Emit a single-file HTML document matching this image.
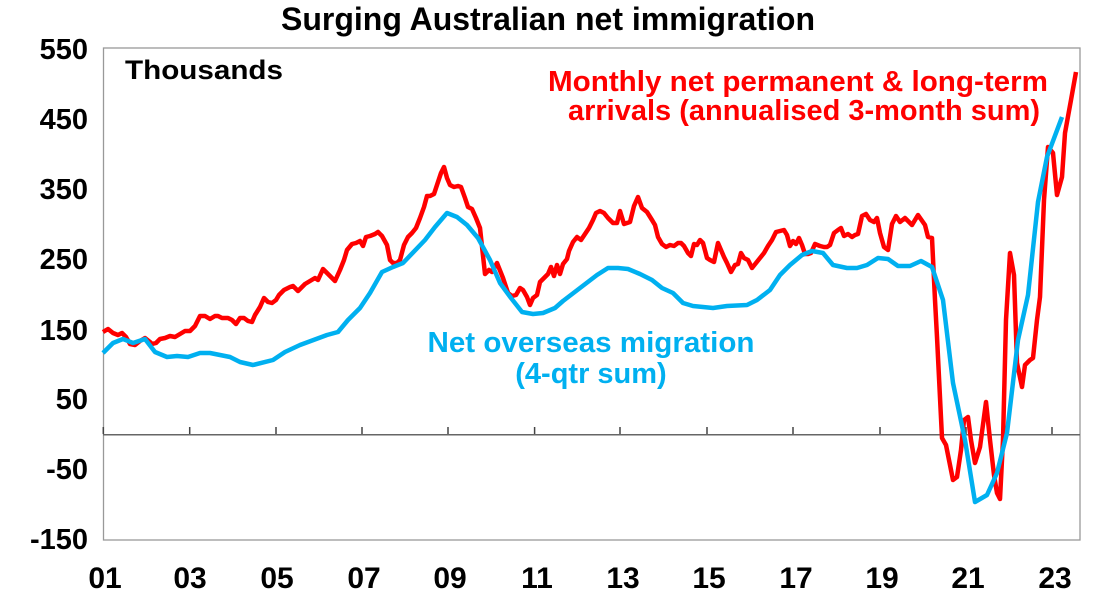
<!DOCTYPE html>
<html><head><meta charset="utf-8"><style>
body{margin:0;background:#fff;}
svg{display:block;font-family:"Liberation Sans",Arial,sans-serif;font-weight:bold;}
</style></head><body>
<svg width="1097" height="608" viewBox="0 0 1097 608">
<text x="548" y="30" font-size="32" text-anchor="middle">Surging Australian net immigration</text>
<rect x="103.5" y="48" width="976.5" height="492" fill="none" stroke="#999" stroke-width="1.3"/>
<line x1="103" y1="434.7" x2="1080" y2="434.7" stroke="#666" stroke-width="1.5"/>
<g stroke="#444" stroke-width="1.5">
<line x1="103.3" y1="427" x2="103.3" y2="434"/><line x1="189.7" y1="427" x2="189.7" y2="434"/><line x1="276" y1="427" x2="276" y2="434"/><line x1="362" y1="427" x2="362" y2="434"/><line x1="448" y1="427" x2="448" y2="434"/><line x1="534.6" y1="427" x2="534.6" y2="434"/><line x1="620" y1="427" x2="620" y2="434"/><line x1="707" y1="427" x2="707" y2="434"/><line x1="793" y1="427" x2="793" y2="434"/><line x1="880" y1="427" x2="880" y2="434"/><line x1="966" y1="427" x2="966" y2="434"/><line x1="1052" y1="427" x2="1052" y2="434"/>
</g>
<g font-size="29" text-anchor="end">
<text x="88" y="59">550</text><text x="88" y="129">450</text><text x="88" y="199">350</text><text x="88" y="269">250</text><text x="88" y="340">150</text><text x="88" y="409">50</text><text x="88" y="479">-50</text><text x="88" y="549">-150</text>
</g>
<g font-size="30" text-anchor="middle">
<text x="105" y="588">01</text><text x="190" y="588">03</text><text x="277" y="588">05</text><text x="364" y="588">07</text><text x="450" y="588">09</text><text x="537" y="588">11</text><text x="623" y="588">13</text><text x="709" y="588">15</text><text x="796" y="588">17</text><text x="882" y="588">19</text><text x="968" y="588">21</text><text x="1055" y="588">23</text>
</g>
<text x="125" y="79" font-size="27" textLength="158" lengthAdjust="spacingAndGlyphs">Thousands</text>
<g font-size="29" fill="#ff0000" text-anchor="end">
<text x="1048" y="91" textLength="500" lengthAdjust="spacingAndGlyphs">Monthly net permanent &amp; long-term</text>
<text x="1040" y="120" textLength="472" lengthAdjust="spacingAndGlyphs">arrivals (annualised 3-month sum)</text>
</g>
<g font-size="29" fill="#00b0f0" text-anchor="middle">
<text x="591" y="352" textLength="327" lengthAdjust="spacingAndGlyphs">Net overseas migration</text>
<text x="591" y="383">(4-qtr sum)</text>
</g>
<polyline fill="none" stroke="#ff0000" stroke-width="4.5" stroke-linejoin="round" points="103,332 108,329 113,333 118,335 122,333 126,337 130,344 135,345 140,341 145,338 150,342 152,344 156,343 160,339 165,338 170,336 175,337 180,334 185,331 190,331 195,326 200,316 205,316 210,319 215,316 218,316 222,318 228,318 232,320 236,324 240,318 244,318 248,321 252,322 255,315 260,307 264,298 268,302 272,303 276,300 279,295 284,290 290,287 293,286 298,291 305,284 310,281 315,278 318,280 323,269 327,273 332,278 335,281 340,270 344,260 347,250 352,244 356,243 360,241 363,246 366,237 370,236 375,234 378,232 382,236 387,245 390,260 393,263 397,263 400,260 404,245 408,237 412,233 416,228 420,218 424,207 427,196 430,196 434,194 438,182 441,173 444,167 447,178 450,185 454,187 458,186 461,187 465,198 468,207 472,209 476,218 480,228 485,274 489,270 492,272 497,263 503,278 508,293 512,296 516,295 520,288 523,290 527,297 530,305 533,298 537,295 540,282 544,278 548,274 551,267 554,276 557,265 560,274 563,264 567,259 569,251 573,242 577,237 581,240 585,234 589,228 593,220 596,213 600,211 604,213 608,218 613,223 617,223 620,211 624,224 630,222 634,206 638,197 642,208 647,212 652,220 655,225 658,237 662,244 666,247 670,245 674,246 678,243 681,243 684,246 688,253 691,256 694,244 697,245 700,240 703,243 707,258 710,260 714,262 718,243 721,250 724,257 727,263 731,272 735,265 738,264 741,253 744,258 748,260 752,268 756,263 760,258 764,253 768,246 772,240 776,232 780,231 784,230 787,235 790,246 793,241 796,244 799,238 802,245 805,254 808,254 811,253 815,244 820,246 824,247 827,247 830,245 834,233 838,230 841,228 844,236 848,234 852,237 855,235 858,234 862,216 866,214 870,220 874,222 877,218 880,233 884,247 888,250 892,224 896,216 900,222 905,218 912,225 918,215 925,225 928,237 932,238 935,300 937,337 942,438 946,445 950,465 953,480 957,477 961,450 964,420 968,417 971,440 975,463 980,447 986,402 990,440 994,475 997,493 1000,499 1003,440 1006,320 1010,253 1014,275 1017,363 1022,387 1025,365 1030,360 1033,358 1037,320 1040,297 1044,200 1048,147 1053,153 1057,195 1062,177 1065,133 1071,100 1076,72"/>
<polyline fill="none" stroke="#00b0f0" stroke-width="4.5" stroke-linejoin="round" points="103,353 113,343 123,339 133,343 145,339 155,352 167,357 177,356 188,357 200,353 210,353 230,357 240,362 253,365 273,360 285,352 300,345 327,335 338,332 348,320 360,308 370,293 382,272 393,267 403,263 425,240 435,227 447,213 457,217 467,225 478,238 490,260 500,283 511,298 522,312 533,314 543,313 555,308 563,301 580,288 597,275 608,268 618,268 628,269 640,274 652,280 662,288 673,293 683,303 693,306 713,308 727,306 747,305 757,300 770,290 780,275 790,265 802,255 812,251 823,253 833,265 847,268 857,268 867,265 878,258 888,259 898,266 910,266 921,261 932,267 943,300 953,383 965,440 975,502 987,495 997,473 1007,433 1018,340 1028,295 1038,202 1047,157 1062,117"/>
</svg>
</body></html>
